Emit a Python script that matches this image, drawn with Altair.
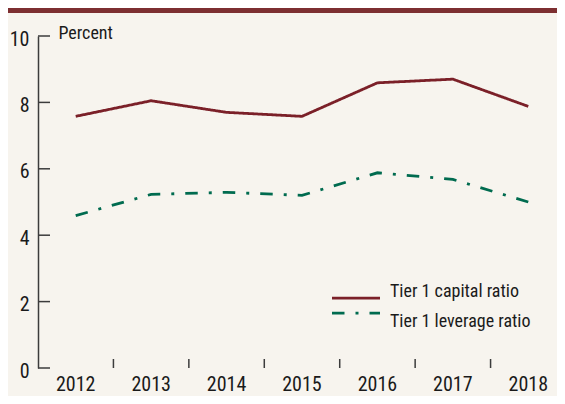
import altair as alt
import pandas as pd

years = [2012, 2013, 2014, 2015, 2016, 2017, 2018]
capital = [7.58, 8.05, 7.70, 7.58, 8.59, 8.70, 7.88]
leverage = [4.59, 5.23, 5.29, 5.20, 5.88, 5.68, 5.00]
series_names = ["Tier 1 capital ratio", "Tier 1 leverage ratio"]
colors = ["#7b2028", "#006b4f"]
dashes = [[1, 0], [12.5, 11, 3, 11]]
y_ticks = [0, 2, 4, 6, 8, 10]
x_tick_positions = [2012.5, 2013.5, 2014.5, 2015.5, 2016.5, 2017.5]
year_labels = [str(y) for y in years]

FONT = "Liberation Sans Narrow, Arial Narrow, Roboto Condensed, DejaVu Sans Condensed, sans-serif"
INK = "#1a1a1a"
AXIS = "#3c3c3c"
W, H = 519, 332
XR = 528  # x scale range end (extends past the visible plot edge)

rows = []
for name, vals in zip(series_names, [capital, leverage]):
    for y, v in zip(years, vals):
        rows.append({"year": y, "value": v, "series": name})
df = pd.DataFrame(rows)

color_scale = alt.Scale(domain=series_names, range=colors)
dash_scale = alt.Scale(domain=series_names, range=dashes)
x_scale = alt.Scale(domain=[2011.5, 2018.5], range=[0, XR], nice=False, zero=False)
y_scale = alt.Scale(domain=[0, 10], nice=False)

lines = alt.Chart(df).mark_line(strokeWidth=2.8, strokeCap="butt", strokeJoin="miter").encode(
    x=alt.X("year:Q", scale=x_scale,
            axis=alt.Axis(values=years, labels=False, ticks=False, grid=False, title="",
                          domainColor=AXIS, domainWidth=1.5)),
    y=alt.Y("value:Q", scale=y_scale,
            axis=alt.Axis(values=y_ticks, ticks=False, grid=False, labelPadding=9, labelOffset=3,
                          labelFontSize=20, labelColor=INK, labelFont=FONT,
                          domainColor=AXIS, domainWidth=1.5,
                          title="Percent", titleAngle=0, titleX=20, titleY=2,
                          titleAlign="left", titleBaseline="alphabetic",
                          titleFontSize=18, titleFontWeight="normal", titleFont=FONT,
                          titleColor=INK)),
    color=alt.Color("series:N", scale=color_scale, legend=None),
    strokeDash=alt.StrokeDash("series:N", scale=dash_scale, legend=None),
)

xlab_df = pd.DataFrame({"year": years, "label": year_labels})
xlabels = alt.Chart(xlab_df).mark_text(baseline="alphabetic", align="center", fontSize=20,
                                       font=FONT, color=INK).encode(
    x=alt.X("year:Q", scale=x_scale, axis=None),
    y=alt.value(H + 23),
    text="label:N",
)

ytick_df = pd.DataFrame({"v": y_ticks})
yticks = alt.Chart(ytick_df).mark_rule(color=AXIS, strokeWidth=1.5).encode(
    y=alt.Y("v:Q", scale=y_scale, axis=None),
    x=alt.value(0), x2=alt.value(12),
)

xtick_df = pd.DataFrame({"v": x_tick_positions})
xticks = alt.Chart(xtick_df).mark_rule(color=AXIS, strokeWidth=1.5).encode(
    x=alt.X("v:Q", scale=x_scale, axis=None),
    y=alt.value(H - 9), y2=alt.value(H),
)

leg_df = pd.DataFrame({"series": series_names})
leg_y = alt.Y("series:N", scale=alt.Scale(domain=series_names, range=[254.7, 284.7], padding=0),
              axis=None)
leg_lines = alt.Chart(leg_df).mark_rule(strokeWidth=2.8, strokeCap="butt").encode(
    y=leg_y, x=alt.value(294), x2=alt.value(342),
    color=alt.Color("series:N", scale=color_scale, legend=None),
    strokeDash=alt.StrokeDash("series:N", scale=dash_scale, legend=None),
)
leg_text = alt.Chart(leg_df).mark_text(align="left", baseline="middle", fontSize=18,
                                       font=FONT, color=INK, dy=1).encode(
    y=leg_y, x=alt.value(352), text="series:N",
)

top_bar = alt.Chart(alt.Data(values=[{}])).mark_rule(color="#7d2f31", strokeWidth=5).encode(
    x=alt.value(-40), x2=alt.value(XR + 10), y=alt.value(-25.5),
)

chart = alt.layer(lines, top_bar, yticks, xticks, xlabels, leg_lines, leg_text).resolve_scale(
    y="independent"
).properties(
    width=W, height=H,
    background="#f7f4ee",
    padding={"left": 30, "top": 28, "right": 0, "bottom": 28},
    autosize=alt.AutoSizeParams(type="none"),
).configure_view(stroke=None)

chart.save("out.html", embed_options={"renderer": "svg", "actions": False})
